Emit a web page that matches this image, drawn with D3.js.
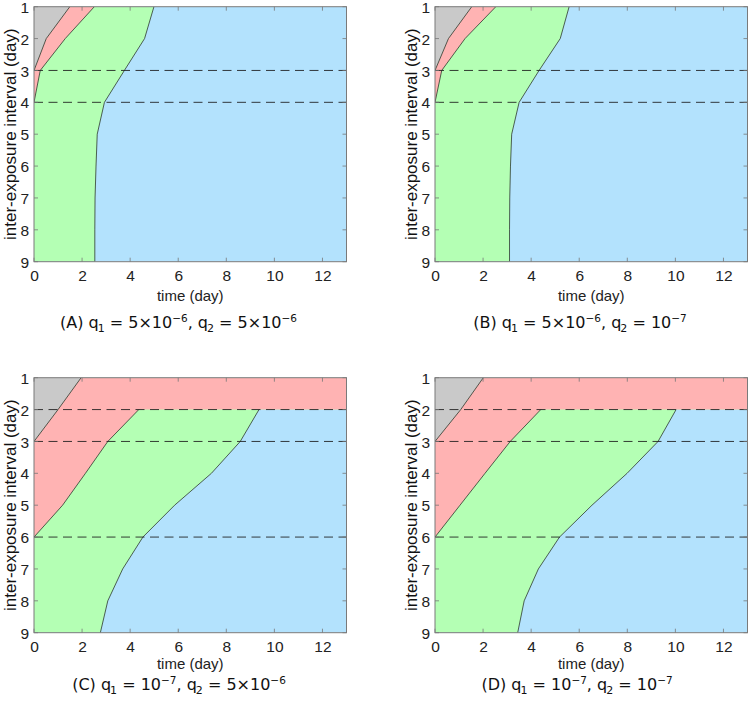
<!DOCTYPE html>
<html><head><meta charset="utf-8">
<script src="https://cdn.jsdelivr.net/npm/d3@7"></script>
<style>body{margin:0;background:#fff}svg{display:block}</style>
</head><body>
<svg id="c" width="750" height="704"></svg>
<script>
// ---- data ----
const xTicks = [0, 2, 4, 6, 8, 10, 12];
const yTicks = [1, 2, 3, 4, 5, 6, 7, 8, 9];
const xDomain = [0, 13];
const yDomain = [1, 9];

// Panel A
const A_grayRed_y = [1, 2, 3];            const A_grayRed_x = [1.49, 0.51, 0];
const A_redGreen_y = [1, 2, 3, 4];        const A_redGreen_x = [2.51, 1.3, 0.26, 0];
const A_greenBlue_y = [1, 2, 3, 4, 5, 6, 7, 8, 9];
const A_greenBlue_x = [4.99, 4.6, 3.76, 2.93, 2.63, 2.58, 2.54, 2.53, 2.53];
const A_dashed = [3, 4];
// Panel B
const B_grayRed_y = [1, 2, 3];            const B_grayRed_x = [1.53, 0.56, 0];
const B_redGreen_y = [1, 2, 3, 4];        const B_redGreen_x = [2.53, 1.25, 0.28, 0];
const B_greenBlue_y = [1, 2, 3, 4, 5, 6, 7, 8, 9];
const B_greenBlue_x = [5.58, 5.21, 4.33, 3.5, 3.19, 3.14, 3.11, 3.1, 3.1];
const B_dashed = [3, 4];
// Panel C
const C_grayRed_y = [1, 2, 3];            const C_grayRed_x = [1.96, 1.0, 0];
const C_redGreen_y = [2, 3, 4, 5, 6];     const C_redGreen_x = [4.36, 3.07, 2.14, 1.19, 0];
const C_greenBlue_y = [2, 3, 4, 5, 6, 7, 8, 9];
const C_greenBlue_x = [9.36, 8.58, 7.38, 5.85, 4.53, 3.69, 3.07, 2.76];
const C_dashed = [2, 3, 6];
// Panel D
const D_grayRed_y = [1, 2, 3];            const D_grayRed_x = [2.01, 1.07, 0];
const D_redGreen_y = [2, 3, 4, 5, 6];     const D_redGreen_x = [4.4, 3.13, 2.08, 1.04, 0];
const D_greenBlue_y = [2, 3, 4, 5, 6, 7, 8, 9];
const D_greenBlue_x = [10.03, 9.28, 7.99, 6.53, 5.18, 4.3, 3.71, 3.44];
const D_dashed = [2, 3, 6];

const xLabel = "time (day)";
const yLabel = "inter-exposure interval (day)";

// ---- layout ----
const colors = {gray: "#c9c9c9", red: "#ffb3b3", green: "#b4ffb4", blue: "#b3e2fd"};
const zip = (xs, ys) => xs.map((x, i) => [x, ys[i]]);
const panels = [
  {letter: "A", q1: ["5×10", "−6"], q2: ["5×10", "−6"], left: 34, top: 6.7, cap: 178.5, labDy: 39, capDy: 66,
   gr: zip(A_grayRed_x, A_grayRed_y), rg: zip(A_redGreen_x, A_redGreen_y), gb: zip(A_greenBlue_x, A_greenBlue_y), full: false, dashed: A_dashed},
  {letter: "B", q1: ["5×10", "−6"], q2: ["10", "−7"], left: 435, top: 6.7, cap: 580, labDy: 39, capDy: 66,
   gr: zip(B_grayRed_x, B_grayRed_y), rg: zip(B_redGreen_x, B_redGreen_y), gb: zip(B_greenBlue_x, B_greenBlue_y), full: false, dashed: B_dashed},
  {letter: "C", q1: ["10", "−7"], q2: ["5×10", "−6"], left: 34, top: 377.7, cap: 179, labDy: 36.5, capDy: 57,
   gr: zip(C_grayRed_x, C_grayRed_y), rg: zip(C_redGreen_x, C_redGreen_y), gb: zip(C_greenBlue_x, C_greenBlue_y), full: true, dashed: C_dashed},
  {letter: "D", q1: ["10", "−7"], q2: ["10", "−7"], left: 435, top: 377.7, cap: 577, labDy: 36.5, capDy: 57,
   gr: zip(D_grayRed_x, D_grayRed_y), rg: zip(D_redGreen_x, D_redGreen_y), gb: zip(D_greenBlue_x, D_greenBlue_y), full: true, dashed: D_dashed}
];
const W = 312.5, H = 255;
const svg = d3.select("#c");
const tickFont = "Liberation Sans, Arial, sans-serif";
const capFont = "DejaVu Sans, sans-serif";

panels.forEach((p, idx) => {
  const x = d3.scaleLinear().domain(xDomain).range([p.left, p.left + W]);
  const y = d3.scaleLinear().domain(yDomain).range([p.top, p.top + H]);
  const g = svg.append("g");
  const clipId = "clip" + idx;
  g.append("clipPath").attr("id", clipId).append("rect")
    .attr("x", x(0)).attr("y", y(1)).attr("width", W).attr("height", H);
  const area = g.append("g").attr("clip-path", `url(#${clipId})`);
  const line = d3.line().x(d => x(d[0])).y(d => y(d[1]));

  const poly = (pts, full) => {
    const out = [[0, 1]];
    if (full) { out.push([13, 1], [13, pts[0][1]]); }
    pts.forEach(d => out.push(d));
    out.push([0, pts[pts.length - 1][1]]);
    return line(out) + "Z";
  };
  area.append("rect").attr("x", x(0)).attr("y", y(1)).attr("width", W).attr("height", H).attr("fill", colors.blue);
  area.append("path").attr("d", poly(p.gb, p.full)).attr("fill", colors.green);
  area.append("path").attr("d", poly(p.rg, p.full)).attr("fill", colors.red);
  area.append("path").attr("d", poly(p.gr, false)).attr("fill", colors.gray);
  [p.gb, p.rg, p.gr].forEach(b => {
    area.append("path").attr("d", line(b)).attr("fill", "none")
      .attr("stroke", "#2d3a2d").attr("stroke-width", 0.8);
  });
  p.dashed.forEach(v => {
    area.append("line").attr("x1", x(0)).attr("x2", x(13)).attr("y1", y(v)).attr("y2", y(v))
      .attr("stroke", "#1a1a1a").attr("stroke-opacity", 0.85).attr("stroke-width", 1)
      .attr("stroke-dasharray", "9,5.5");
  });

  // frame and inside ticks
  const tk = 4;
  xTicks.forEach(t => {
    g.append("line").attr("x1", x(t)).attr("x2", x(t)).attr("y1", y(9)).attr("y2", y(9) - tk).attr("stroke", "#777").attr("stroke-width", 0.8);
    g.append("line").attr("x1", x(t)).attr("x2", x(t)).attr("y1", y(1)).attr("y2", y(1) + tk).attr("stroke", "#777").attr("stroke-width", 0.8);
  });
  yTicks.forEach(t => {
    g.append("line").attr("x1", x(0)).attr("x2", x(0) + tk).attr("y1", y(t)).attr("y2", y(t)).attr("stroke", "#777").attr("stroke-width", 0.8);
    g.append("line").attr("x1", x(13)).attr("x2", x(13) - tk).attr("y1", y(t)).attr("y2", y(t)).attr("stroke", "#777").attr("stroke-width", 0.8);
  });
  g.append("rect").attr("x", x(0)).attr("y", y(1)).attr("width", W).attr("height", H)
    .attr("fill", "none").attr("stroke", "#7a7a7a").attr("stroke-width", 1);

  // axes labels via d3 axes (text only)
  const xAxis = g.append("g").attr("transform", `translate(0,${y(9)})`)
    .call(d3.axisBottom(x).tickValues(xTicks).tickSize(0).tickPadding(8));
  const yAxis = g.append("g").attr("transform", `translate(${x(0)},0)`)
    .call(d3.axisLeft(y).tickValues(yTicks).tickSize(0).tickPadding(5));
  [xAxis, yAxis].forEach(a => {
    a.select(".domain").remove();
    a.selectAll("text").attr("font-family", tickFont).attr("font-size", 15.5).attr("fill", "#222");
  });
  yAxis.selectAll("text").attr("dy", "0.36em");

  g.append("text").attr("x", x(6.5)).attr("y", y(9) + p.labDy).attr("text-anchor", "middle")
    .attr("font-family", tickFont).attr("font-size", 15).attr("fill", "#222").text(xLabel);
  g.append("text").attr("transform", `translate(${p.left - 18},${(y(1) + y(9)) / 2}) rotate(-90)`)
    .attr("text-anchor", "middle").attr("font-family", tickFont).attr("font-size", 17).attr("fill", "#111").text(yLabel);

  // caption
  const cap = g.append("text").attr("x", p.cap).attr("y", y(9) + p.capDy).attr("text-anchor", "middle")
    .attr("font-family", capFont).attr("font-size", 16).attr("fill", "#111");
  cap.append("tspan").text(`(${p.letter})  q`);
  cap.append("tspan").attr("font-size", 11).attr("dy", 4).attr("dx", -1).text("1");
  cap.append("tspan").attr("dy", -4).text(" = " + p.q1[0]);
  cap.append("tspan").attr("font-size", 10.5).attr("dy", -6).text(p.q1[1]);
  cap.append("tspan").attr("dy", 6).text(", q");
  cap.append("tspan").attr("font-size", 11).attr("dy", 4).attr("dx", -1).text("2");
  cap.append("tspan").attr("dy", -4).text(" = " + p.q2[0]);
  cap.append("tspan").attr("font-size", 10.5).attr("dy", -6).text(p.q2[1]);
});
</script>
</body></html>
